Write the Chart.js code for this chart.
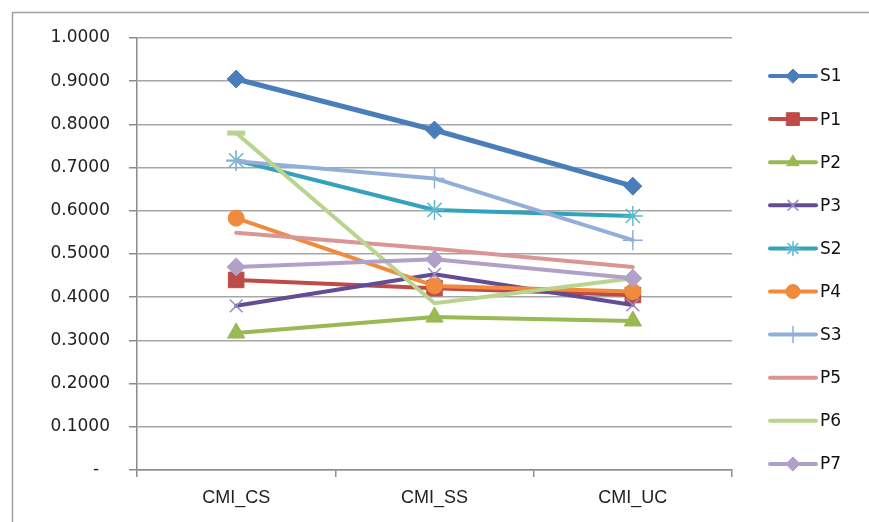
<!DOCTYPE html>
<html><head><meta charset="utf-8">
<script src="https://cdn.jsdelivr.net/npm/chart.js@4.4.0/dist/chart.umd.min.js"></script>
<style>html,body{margin:0;padding:0;background:#fff;overflow:hidden}#wrap{width:869px;height:522px}canvas{display:block}</style>
</head><body><div id="wrap"><canvas id="c" width="869" height="522"></canvas></div>
<script>
const categories = ['CMI_CS', 'CMI_SS', 'CMI_UC'];
const seriesNames = ['S1', 'P1', 'P2', 'P3', 'S2', 'P4', 'S3', 'P5', 'P6', 'P7'];
const S1 = [0.905, 0.787, 0.657];
const P1 = [0.440, 0.421, 0.405];
const P2 = [0.317, 0.354, 0.345];
const P3 = [0.380, 0.453, 0.382];
const S2 = [0.717, 0.602, 0.588];
const P4 = [0.583, 0.426, 0.413];
const S3 = [0.715, 0.675, 0.532];
const P5 = [0.549, 0.512, 0.470];
const P6 = [0.780, 0.386, 0.444];
const P7 = [0.470, 0.488, 0.444];
const yTickLabels = ['-  ', '0.1000', '0.2000', '0.3000', '0.4000', '0.5000', '0.6000', '0.7000', '0.8000', '0.9000', '1.0000'];

const values = [S1, P1, P2, P3, S2, P4, S3, P5, P6, P7];
const styles = [
  {line:'#4A7EBB', mk:'#4A7EBB', ps:'rectRot', r:9, lr:7, bw:5, mbw:1},
  {line:'#BE4B48', mk:'#BE4B48', ps:'rect', r:11, lr:9, bw:4, mbw:1},
  {line:'#98B954', mk:'#98B954', ps:'triangle', r:10, lr:7, bw:4, mbw:1},
  {line:'#624C94', mk:'#9C89C2', ps:'crossRot', r:9, lr:7, bw:4, mbw:1.5},
  {line:'#34A2BC', mk:'#5DB8D0', ps:'star', r:10, lr:7, bw:4, mbw:1.5},
  {line:'#F08A3C', mk:'#F08A3C', ps:'circle', r:8, lr:7, bw:4, mbw:1},
  {line:'#93AFD9', mk:'#93AFD9', ps:'cross', r:10, lr:8, bw:4, mbw:1.5},
  {line:'#D99694', mk:'#D99694', ps:false, r:0, lr:0, bw:4, mbw:1},
  {line:'#B9D48F', mk:'#B9D48F', ps:'line', r:[9,0,0], lr:0, bw:4, mbw:5},
  {line:'#B1A0C7', mk:'#B1A0C7', ps:'rectRot', r:9, lr:7, bw:4, mbw:1}
];

const datasets = seriesNames.map((name, i) => {
  const s = styles[i];
  return {
    label: name,
    data: values[i],
    borderColor: s.line,
    backgroundColor: s.mk,
    borderWidth: s.bw,
    borderJoinStyle: 'round',
    borderCapStyle: 'round',
    tension: 0,
    pointStyle: s.ps,
    pointRadius: s.r,
    pointBackgroundColor: s.mk,
    pointBorderColor: s.mk,
    pointBorderWidth: s.mbw,
    legendRadius: s.lr,
    order: seriesNames.length - i
  };
});

const bgPlugin = {
  id: 'bg',
  beforeDraw(chart) {
    const ctx = chart.ctx;
    ctx.save();
    ctx.fillStyle = '#fff';
    ctx.fillRect(0, 0, chart.width, chart.height);
    ctx.strokeStyle = '#a0a0a0';
    ctx.lineWidth = 1.5;
    ctx.beginPath();
    ctx.moveTo(12.5, chart.height);
    ctx.lineTo(12.5, 12.5);
    ctx.lineTo(chart.width, 12.5);
    ctx.stroke();
    ctx.restore();
  }
};

const legendPlugin = {
  id: 'sideLegend',
  afterDraw(chart) {
    const ctx = chart.ctx;
    chart.data.datasets.forEach((ds, i) => {
      const y = 76 + i * 43.1;
      ctx.save();
      ctx.strokeStyle = ds.borderColor;
      ctx.lineWidth = 4;
      ctx.lineCap = 'round';
      ctx.beginPath();
      ctx.moveTo(770, y);
      ctx.lineTo(816, y);
      ctx.stroke();
      if (ds.legendRadius > 0) {
        ctx.fillStyle = ds.pointBackgroundColor;
        ctx.strokeStyle = ds.pointBorderColor;
        ctx.lineWidth = ds.pointBorderWidth;
        Chart.helpers.drawPoint(ctx, {pointStyle: ds.pointStyle, radius: ds.legendRadius, rotation: 0, borderWidth: ds.pointBorderWidth}, 793, y);
      }
      ctx.fillStyle = '#111';
      ctx.font = '17px "DejaVu Sans"';
      ctx.textBaseline = 'middle';
      ctx.textAlign = 'left';
      ctx.fillText(ds.label, 820, y + 1);
      ctx.restore();
    });
  }
};

new Chart(document.getElementById('c'), {
  type: 'line',
  data: { labels: categories, datasets },
  options: {
    responsive: false,
    animation: false,
    events: [],
    devicePixelRatio: 1,
    layout: { padding: { top: 38, right: 137, left: 0, bottom: 0 } },
    plugins: { legend: { display: false }, tooltip: { enabled: false } },
    scales: {
      x: {
        type: 'category',
        offset: true,
        grid: { offset: true, drawOnChartArea: false, tickLength: 7, color: '#8c8c8c', lineWidth: 1.5 },
        border: { color: '#8c8c8c', width: 1.5 },
        ticks: { font: { family: 'Liberation Sans', size: 18 }, color: '#222', padding: 10 },
        afterFit(s) { s.height = 52; }
      },
      y: {
        min: 0, max: 1,
        ticks: {
          stepSize: 0.1,
          font: { family: 'DejaVu Sans', size: 17 },
          color: '#222',
          padding: 19,
          callback: (v) => yTickLabels[Math.round(v * 10)]
        },
        grid: { color: '#a6a6a6', lineWidth: 1.5, tickLength: 8, tickColor: '#8c8c8c' },
        border: { color: '#8c8c8c', width: 1.5 },
        afterFit(s) { s.width = 137; }
      }
    }
  },
  plugins: [bgPlugin, legendPlugin]
});
</script>
</body></html>
